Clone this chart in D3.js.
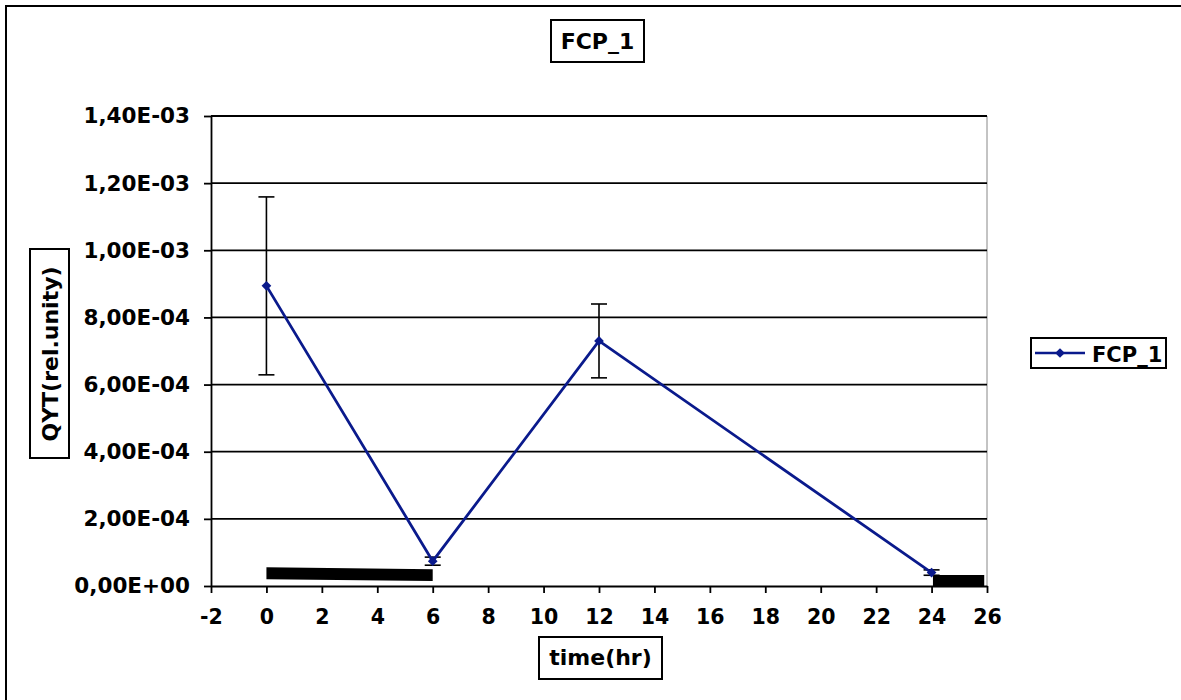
<!DOCTYPE html>
<html>
<head>
<meta charset="utf-8">
<script src="https://cdn.jsdelivr.net/npm/d3@7/dist/d3.min.js"></script>
<style>
  body { margin: 0; background: #fff; }
  text { font-family: "DejaVu Sans", Verdana, sans-serif; font-weight: bold; fill: #000; }
</style>
</head>
<body>
<div id="viz"></div>
<script>
// series values
var times = [0, 6, 12, 24];
var values = [8.94e-4, 7.4e-5, 7.3e-4, 4.0e-5];
var errors = [2.65e-4, 1.2e-5, 1.1e-4, 0.8e-5];
var seriesName = 'FCP_1';

// dark period bars (top / bottom edge of each band)
var darkBand1 = [{x: 0, top: 5.6e-5, bottom: 2.0e-5}, {x: 6, top: 5.0e-5, bottom: 1.5e-5}];
var darkBand2 = [{x: 24.05, top: 3.3e-5, bottom: 0}, {x: 25.9, top: 3.3e-5, bottom: 0}];

// axis ticks and labels
var xTicks = [-2, 0, 2, 4, 6, 8, 10, 12, 14, 16, 18, 20, 22, 24, 26];
var yTicks = [0, 2e-4, 4e-4, 6e-4, 8e-4, 1e-3, 1.2e-3, 1.4e-3];
var yTickLabels = ['0,00E+00', '2,00E-04', '4,00E-04', '6,00E-04', '8,00E-04', '1,00E-03', '1,20E-03', '1,40E-03'];

var svg = d3.select('#viz').append('svg')
	.attr('width', 1181)
	.attr('height', 700);

// outer chart border (runs off the right and bottom of the window)
svg.append('rect')
	.attr('x', 6).attr('y', 6)
	.attr('width', 1220).attr('height', 740)
	.attr('fill', 'none')
	.attr('stroke', '#000')
	.attr('stroke-width', 2);

// plot area
var plotLeft = 211, plotRight = 987, plotTop = 116, plotBottom = 586;

var x = d3.scaleLinear().domain([-2, 26]).range([plotLeft, plotRight]);
var y = d3.scaleLinear().domain([0, 1.4e-3]).range([plotBottom, plotTop]);

// right border of plot area
svg.append('line')
	.attr('x1', plotRight).attr('x2', plotRight)
	.attr('y1', plotTop).attr('y2', plotBottom)
	.attr('stroke', '#888')
	.attr('stroke-width', 1);

// horizontal gridlines
svg.append('g').selectAll('line')
	.data(yTicks.slice(1))
	.enter()
	.append('line')
	.attr('x1', plotLeft).attr('x2', plotRight)
	.attr('y1', function (d) { return y(d); })
	.attr('y2', function (d) { return y(d); })
	.attr('stroke', '#000')
	.attr('stroke-width', 1.8);

// y axis
var yAxis = svg.append('g')
	.attr('transform', 'translate(' + plotLeft + ',0)')
	.call(d3.axisLeft(y)
		.tickValues(yTicks)
		.tickSize(7)
		.tickSizeOuter(0)
		.tickPadding(14)
		.tickFormat(function (d, i) { return yTickLabels[i]; }));

// x axis
var xAxis = svg.append('g')
	.attr('transform', 'translate(0,' + plotBottom + ')')
	.call(d3.axisBottom(x)
		.tickValues(xTicks)
		.tickSize(7)
		.tickSizeOuter(0)
		.tickPadding(16)
		.tickFormat(function (d) { return String(d); }));

svg.selectAll('.domain, .tick line')
	.attr('stroke', '#000')
	.attr('stroke-width', 1.8);
svg.selectAll('.tick text')
	.attr('font-family', '"DejaVu Sans", Verdana, sans-serif')
	.attr('font-weight', 'bold');
yAxis.selectAll('.tick text').attr('font-size', '21.5px');
xAxis.selectAll('.tick text').attr('font-size', '20.5px');

// dark bars
var band = d3.area()
	.x(function (d) { return x(d.x); })
	.y0(function (d) { return y(d.bottom); })
	.y1(function (d) { return y(d.top); });

svg.append('path').datum(darkBand1).attr('d', band).attr('fill', '#000');
svg.append('path').datum(darkBand2).attr('d', band).attr('fill', '#000');

// error bars
var err = svg.append('g').selectAll('g')
	.data(times)
	.enter()
	.append('g');

err.append('line')
	.attr('x1', function (d) { return x(d); })
	.attr('x2', function (d) { return x(d); })
	.attr('y1', function (d, i) { return y(values[i] + errors[i]); })
	.attr('y2', function (d, i) { return y(values[i] - errors[i]); });
err.append('line')
	.attr('x1', function (d) { return x(d) - 8; })
	.attr('x2', function (d) { return x(d) + 8; })
	.attr('y1', function (d, i) { return y(values[i] + errors[i]); })
	.attr('y2', function (d, i) { return y(values[i] + errors[i]); });
err.append('line')
	.attr('x1', function (d) { return x(d) - 8; })
	.attr('x2', function (d) { return x(d) + 8; })
	.attr('y1', function (d, i) { return y(values[i] - errors[i]); })
	.attr('y2', function (d, i) { return y(values[i] - errors[i]); });
err.selectAll('line')
	.attr('stroke', '#000')
	.attr('stroke-width', 1.6);

// the series line
var line = d3.line()
	.x(function (d, i) { return x(times[i]); })
	.y(function (d) { return y(d); });

var blue = '#0a1a8c';

svg.append('path')
	.datum(values)
	.attr('d', line)
	.attr('fill', 'none')
	.attr('stroke', blue)
	.attr('stroke-width', 2.8);

// diamond markers
var diamond = d3.symbol().type(d3.symbolDiamond2).size(60);
svg.append('g').selectAll('path')
	.data(values)
	.enter()
	.append('path')
	.attr('d', diamond)
	.attr('transform', function (d, i) { return 'translate(' + x(times[i]) + ',' + y(d) + ')'; })
	.attr('fill', blue);

// boxed label helper
function boxLabel(x0, y0, w, h, tx, ty, txt, rotate) {
	svg.append('rect')
		.attr('x', x0).attr('y', y0)
		.attr('width', w).attr('height', h)
		.attr('fill', '#fff')
		.attr('stroke', '#000')
		.attr('stroke-width', 2);
	var t = svg.append('text')
		.attr('text-anchor', 'middle')
		.attr('font-size', '22px')
		.text(txt);
	if (rotate) {
		t.attr('transform', 'translate(' + tx + ',' + ty + ') rotate(-90)');
	} else {
		t.attr('x', tx).attr('y', ty);
	}
}

// title
boxLabel(551, 20, 93, 42, 597.5, 48.5, seriesName, false);
// axis titles
boxLabel(539, 637, 123, 42, 600.5, 665, 'time(hr)', false);
boxLabel(30, 249, 39, 209, 58, 354, 'QYT(rel.unity)', true);

// legend
var legend = svg.append('g');
legend.append('rect')
	.attr('x', 1031).attr('y', 338)
	.attr('width', 135).attr('height', 30)
	.attr('fill', '#fff')
	.attr('stroke', '#000')
	.attr('stroke-width', 2);
legend.append('line')
	.attr('x1', 1035).attr('x2', 1085)
	.attr('y1', 353).attr('y2', 353)
	.attr('stroke', blue)
	.attr('stroke-width', 2.6);
legend.append('path')
	.attr('d', diamond)
	.attr('transform', 'translate(1060,353)')
	.attr('fill', blue);
legend.append('text')
	.attr('x', 1092).attr('y', 362)
	.attr('font-size', '21px')
	.text(seriesName);
</script>
</body>
</html>
